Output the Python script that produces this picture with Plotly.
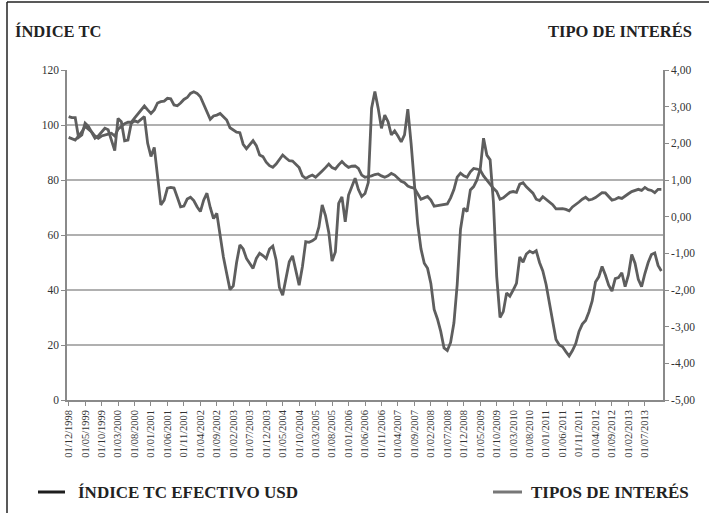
import pandas as pd
import plotly.graph_objects as go

# ---- data ----
months = [d.strftime("%d/%m/%Y") for d in pd.date_range("1998-12-01", "2013-12-01", freq="MS")]

indice_tc = [
    95.5, 95.0, 94.5, 96.0, 97.5, 99.5, 98.5, 97.5, 96.0, 95.2,
    96.0, 96.5, 96.7, 97.0, 96.0, 98.5, 99.5, 100.5, 101.0, 101.0,
    102.5, 104.0, 105.5, 106.9, 105.5, 104.2, 105.5, 108.0, 108.5, 108.7,
    109.7, 109.5, 107.3, 107.0, 108.0, 109.3, 110.0, 111.5, 112.1, 111.5,
    110.3, 107.5, 104.5, 102.1, 103.3, 103.6, 104.2, 103.0, 101.8, 99.0,
    98.2, 97.4, 97.2, 93.0, 91.4, 93.0, 94.3, 92.5, 89.1, 88.5,
    86.5, 85.2, 84.6, 85.8, 87.5, 89.1, 88.0, 87.0, 86.9, 85.5,
    84.5, 81.5, 80.6, 81.3, 81.8, 81.0, 82.0, 83.3, 84.5, 85.8,
    84.5, 84.0, 85.5, 86.7, 85.5, 84.6, 85.0, 85.1, 84.2, 81.8,
    81.0, 81.2, 81.5, 82.0, 82.2, 81.5, 81.0, 81.5, 82.4, 81.8,
    80.5, 79.5, 79.0, 77.8, 77.3, 77.0, 75.0, 73.0, 73.5, 74.0,
    72.7, 70.5, 70.7, 70.9, 71.2, 71.3, 73.5, 76.5, 81.0, 82.5,
    81.5, 81.0, 83.0, 84.2, 84.0, 83.6, 81.5, 80.0, 78.2, 77.0,
    75.8, 73.0, 73.5, 74.5, 75.5, 75.8, 75.5, 78.5, 79.0, 77.5,
    76.4, 75.2, 73.0, 72.5, 73.9, 73.0, 72.0, 71.0, 69.5, 69.5,
    69.6, 69.3, 68.8, 70.2, 71.0, 72.0, 73.0, 73.7, 72.7, 73.0,
    73.6, 74.5, 75.4, 75.3, 74.0, 72.7, 73.0, 73.6, 73.3, 74.0,
    75.0, 75.8, 76.2, 76.6, 76.2, 77.3, 76.5, 76.2, 75.4, 76.6,
    76.6,
]

tipos_interes = [
    2.73, 2.70, 2.70, 2.16, 2.23, 2.55, 2.46, 2.31, 2.14, 2.20,
    2.31, 2.41, 2.37, 2.05, 1.80, 2.68, 2.59, 2.07, 2.09, 2.54,
    2.62, 2.58, 2.65, 2.73, 2.00, 1.64, 1.89, 1.14, 0.32, 0.45,
    0.78, 0.80, 0.78, 0.53, 0.27, 0.29, 0.48, 0.53, 0.44, 0.27,
    0.14, 0.45, 0.64, 0.25, -0.05, 0.09, -0.50, -1.10, -1.55, -1.99,
    -1.89, -1.25, -0.77, -0.88, -1.14, -1.27, -1.41, -1.14, -1.00, -1.06,
    -1.14, -0.88, -0.80, -1.18, -1.93, -2.14, -1.64, -1.23, -1.07, -1.45,
    -1.87, -1.36, -0.68, -0.70, -0.66, -0.59, -0.28, 0.32, 0.03, -0.43,
    -1.21, -0.96, 0.36, 0.54, -0.14, 0.59, 0.85, 1.05, 0.74, 0.55,
    0.63, 0.93, 2.96, 3.41, 2.96, 2.41, 2.77, 2.59, 2.23, 2.34,
    2.20, 2.04, 2.23, 2.93, 2.00, 0.82, -0.20, -0.88, -1.27, -1.41,
    -1.82, -2.53, -2.79, -3.13, -3.58, -3.65, -3.43, -2.90, -1.85, -0.35,
    0.23, 0.14, 0.73, 0.82, 1.00, 1.30, 2.14, 1.68, 1.55, 0.40,
    -1.63, -2.75, -2.59, -2.08, -2.17, -2.00, -1.82, -1.10, -1.24, -1.02,
    -0.94, -0.99, -0.93, -1.25, -1.48, -1.85, -2.38, -2.90, -3.35, -3.50,
    -3.55, -3.68, -3.80, -3.65, -3.46, -3.13, -2.93, -2.83, -2.60, -2.30,
    -1.78, -1.64, -1.36, -1.59, -1.87, -2.03, -1.69, -1.66, -1.53, -1.91,
    -1.59, -1.03, -1.27, -1.71, -1.91, -1.55, -1.25, -1.03, -0.99, -1.33,
    -1.48,
]

left_ticks = [0, 20, 40, 60, 80, 100, 120]
right_ticks = [-5, -4, -3, -2, -1, 0, 1, 2, 3, 4]
right_labels = ["-5,00", "-4,00", "-3,00", "-2,00", "-1,00", "0,00", "1,00", "2,00", "3,00", "4,00"]
x_tick_labels = months[::5][:36]

# ---- layout helpers (pixel -> paper) ----
L, R, T, B = 67, 663, 70, 400
W, H = R - L, B - T
def px(x):
    return (x - L) / W
def py(y):
    return (B - y) / H

FONT = "Liberation Serif"
LINE_COL = "#5e5e5e"

fig = go.Figure()
fig.add_trace(go.Scatter(
    x=months, y=indice_tc, mode="lines", name="ÍNDICE TC EFECTIVO USD",
    line=dict(color=LINE_COL, width=2.8), yaxis="y", showlegend=False))
fig.add_trace(go.Scatter(
    x=months, y=tipos_interes, mode="lines", name="TIPOS DE INTERÉS",
    line=dict(color=LINE_COL, width=2.8), yaxis="y2", showlegend=False))

fig.update_layout(
    width=709, height=513,
    margin=dict(l=L, r=709 - R, t=T, b=513 - B),
    paper_bgcolor="white", plot_bgcolor="white",
    font=dict(family=FONT, color="#333333", size=11),
    xaxis=dict(
        type="category", range=[-0.5, len(months) - 0.5],
        tickmode="array", tickvals=x_tick_labels, ticktext=x_tick_labels,
        tickangle=-90, tickfont=dict(size=10.5, family=FONT, color="#333333"),
        showgrid=False, showline=True, linecolor="#8a8a8a", linewidth=1.5,
        ticks="outside", ticklen=4, tickcolor="#8a8a8a", zeroline=False,
    ),
    yaxis=dict(
        range=[0, 120], tickvals=left_ticks, showgrid=True,
        gridcolor="#b0b0b0", gridwidth=1.5, showline=True,
        linecolor="#8a8a8a", linewidth=1.5, ticks="outside", ticklen=4,
        tickcolor="#8a8a8a", zeroline=False,
        tickfont=dict(size=11.5, family=FONT, color="#333333"),
    ),
    yaxis2=dict(
        range=[-5, 4], overlaying="y", side="right",
        tickvals=right_ticks, ticktext=right_labels, showgrid=False,
        showline=True, linecolor="#8a8a8a", linewidth=1.5, ticks="outside",
        ticklen=4, tickcolor="#8a8a8a", zeroline=False,
        tickfont=dict(size=11.5, family=FONT, color="#333333"),
    ),
)

title_font = dict(family=FONT, size=16.5, color="#222222")
legend_font = dict(family=FONT, size=17, color="#222222")
fig.add_annotation(xref="paper", yref="paper", x=px(13), y=py(31), xanchor="left", yanchor="middle",
                   text="<b>ÍNDICE TC</b>", showarrow=False, font=title_font)
fig.add_annotation(xref="paper", yref="paper", x=px(694), y=py(31), xanchor="right", yanchor="middle",
                   text="<b>TIPO DE INTERÉS</b>", showarrow=False, font=title_font)

# custom legend
fig.add_shape(type="line", xref="paper", yref="paper", x0=px(38), x1=px(65), y0=py(492), y1=py(492),
              line=dict(color="#1e1e1e", width=3))
fig.add_annotation(xref="paper", yref="paper", x=px(76), y=py(492), xanchor="left", yanchor="middle",
                   text="<b>ÍNDICE TC EFECTIVO USD</b>", showarrow=False, font=legend_font)
fig.add_shape(type="line", xref="paper", yref="paper", x0=px(493), x1=px(522), y0=py(492), y1=py(492),
              line=dict(color="#777777", width=3))
fig.add_annotation(xref="paper", yref="paper", x=px(529), y=py(492), xanchor="left", yanchor="middle",
                   text="<b>TIPOS DE INTERÉS</b>", showarrow=False, font=legend_font)

# outer frame (left and top edges)
fig.add_shape(type="line", xref="paper", yref="paper", x0=px(7), x1=px(7), y0=py(2), y1=py(513),
              line=dict(color="#222222", width=1.5))
fig.add_shape(type="line", xref="paper", yref="paper", x0=px(7), x1=px(709), y0=py(2), y1=py(2),
              line=dict(color="#222222", width=1.5))

fig.write_html("out.html", config={"displayModeBar": False},
               post_script="document.body.style.margin='0';document.body.style.overflow='hidden';")
